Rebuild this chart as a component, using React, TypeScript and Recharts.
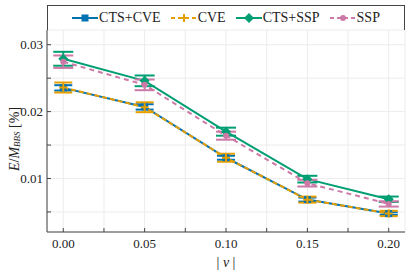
import React from "react";
import {
  ComposedChart,
  Line,
  XAxis,
  YAxis,
  CartesianGrid,
  ErrorBar,
  Label,
} from "recharts";

// |v| values
const velocity = [0, 0.05, 0.1, 0.15, 0.2];

const ctsCve = [0.02355, 0.0207, 0.0131, 0.00685, 0.00475];
const ctsCveErr = [0.0004, 0.0004, 0.0003, 0.0003, 0.0002];
const cve = [0.0236, 0.02065, 0.0131, 0.00684, 0.00477];
const cveErr = [0.00075, 0.00074, 0.0006, 0.00045, 0.0004];
const ctsSsp = [0.0279, 0.0246, 0.017, 0.0099, 0.0069];
const ctsSspErr = [0.00104, 0.0008, 0.0006, 0.0005, 0.0004];
const ssp = [0.02746, 0.024, 0.0164, 0.0093, 0.0062];
const sspErr = [0.00093, 0.0008, 0.0006, 0.0005, 0.0004];

const xTicks = [0, 0.025, 0.05, 0.075, 0.1, 0.125, 0.15, 0.175, 0.2];
const yTicks = [0.005, 0.01, 0.015, 0.02, 0.025, 0.03];

const BLUE = "#0072B2";
const ORANGE = "#E69F00";
const GREEN = "#009E73";
const PINK = "#CC79A7";
const FONT = "Liberation Serif";
const AXIS = "#444";

const data = velocity.map((v, i) => ({
  v,
  ctsCve: ctsCve[i],
  ctsCveErr: ctsCveErr[i],
  cve: cve[i],
  cveErr: cveErr[i],
  ctsSsp: ctsSsp[i],
  ctsSspErr: ctsSspErr[i],
  ssp: ssp[i],
  sspErr: sspErr[i],
}));

const isMajor = (v: number, step: number) =>
  Math.abs(v / step - Math.round(v / step)) < 1e-6;

const SquareDot = (p: any) => (
  <rect x={p.cx - 3.5} y={p.cy - 3.5} width={7} height={7} fill={BLUE} />
);
const PlusDot = (p: any) => (
  <path
    d={`M${p.cx - 4},${p.cy}H${p.cx + 4}M${p.cx},${p.cy - 4}V${p.cy + 4}`}
    stroke={ORANGE}
    strokeWidth={2}
  />
);
const DiamondDot = (p: any) => (
  <path
    d={`M${p.cx},${p.cy - 5}L${p.cx + 5},${p.cy}L${p.cx},${p.cy + 5}L${p.cx - 5},${p.cy}Z`}
    fill={GREEN}
  />
);
const CircleDot = (p: any) => <circle cx={p.cx} cy={p.cy} r={3} fill={PINK} />;

const legendItems = [
  { name: "CTS+CVE", color: BLUE, dash: undefined, marker: "square" },
  { name: "CVE", color: ORANGE, dash: "4 3", marker: "plus" },
  { name: "CTS+SSP", color: GREEN, dash: undefined, marker: "diamond" },
  { name: "SSP", color: PINK, dash: "4 3", marker: "circle" },
];

const LegendMarker = ({ item }: { item: (typeof legendItems)[number] }) => (
  <svg width={26} height={12} style={{ display: "block" }}>
    <line x1={0} y1={6} x2={26} y2={6} stroke={item.color} strokeWidth={2} strokeDasharray={item.dash} />
    {item.marker === "square" && <rect x={9.5} y={2.5} width={7} height={7} fill={item.color} />}
    {item.marker === "plus" && (
      <path d="M9,6H17M13,2V10" stroke={item.color} strokeWidth={2} />
    )}
    {item.marker === "diamond" && <path d="M13,1L18,6L13,11L8,6Z" fill={item.color} />}
    {item.marker === "circle" && <circle cx={13} cy={6} r={3} fill={item.color} />}
  </svg>
);

const YLabel = (props: any) => {
  const vb = props.viewBox;
  const cy = vb.y + vb.height / 2 + 8;
  return (
    <text
      x={14}
      y={cy}
      transform={`rotate(-90, 14, ${cy})`}
      textAnchor="middle"
      dominantBaseline="central"
      fontFamily={FONT}
      fontSize={14}
      fill="#222"
    >
      <tspan fontStyle="italic">E</tspan>
      <tspan>/</tspan>
      <tspan fontStyle="italic">M</tspan>
      <tspan fontStyle="italic" fontSize={9} dy={3}>BBS</tspan>
      <tspan dy={-3}> [%]</tspan>
    </text>
  );
};

export default function App() {
  return (
    <div style={{ position: "absolute", left: 0, top: 0, width: 411, height: 274, background: "#fff", fontFamily: FONT }}>
      <ComposedChart
        width={411}
        height={274}
        data={data}
        margin={{ top: 30, right: 6, left: 0, bottom: 12 }}
        style={{ fontFamily: FONT }}
      >
        <CartesianGrid stroke="#ececec" strokeWidth={1} />
        <XAxis
          dataKey="v"
          type="number"
          domain={[-0.01, 0.21]}
          ticks={xTicks}
          tickFormatter={(v: number) => (isMajor(v, 0.05) ? v.toFixed(2) : "")}
          tickSize={-4}
          tickMargin={11}
          height={30}
          stroke={AXIS}
          tick={{ fontFamily: FONT, fontSize: 13, fill: "#222" }}
        >
          <Label
            content={(p: any) => (
              <text
                x={p.viewBox.x + p.viewBox.width / 2}
                y={262}
                textAnchor="middle"
                dominantBaseline="central"
                fontFamily={FONT}
                fontSize={14}
                fill="#222"
              >
                {"| "}
                <tspan fontStyle="italic">v</tspan>
                {" |"}
              </text>
            )}
          />
        </XAxis>
        <XAxis
          xAxisId="top"
          orientation="top"
          dataKey="v"
          type="number"
          domain={[-0.01, 0.21]}
          ticks={xTicks}
          tick={false}
          tickSize={-4}
          height={0}
          stroke={AXIS}
        />
        <YAxis
          type="number"
          domain={[0.002, 0.0322]}
          ticks={yTicks}
          tickFormatter={(v: number) => (isMajor(v, 0.01) ? v.toFixed(2) : "")}
          tickSize={-4}
          tickMargin={8}
          width={47}
          stroke={AXIS}
          tick={{ fontFamily: FONT, fontSize: 13, fill: "#222" }}
          allowDataOverflow
        >
          <Label content={YLabel} />
        </YAxis>
        <YAxis
          yAxisId="right"
          orientation="right"
          type="number"
          domain={[0.002, 0.0322]}
          ticks={yTicks}
          tick={false}
          tickSize={-4}
          width={0}
          stroke={AXIS}
        />
        <Line
          dataKey="ctsCve"
          stroke={BLUE}
          strokeWidth={2}
          dot={<SquareDot />}
          activeDot={false}
          isAnimationActive={false}
        >
          <ErrorBar dataKey="ctsCveErr" width={9} stroke={BLUE} strokeWidth={2} direction="y" isAnimationActive={false} />
        </Line>
        <Line
          dataKey="cve"
          stroke={ORANGE}
          strokeWidth={2}
          strokeDasharray="5 3"
          dot={<PlusDot />}
          activeDot={false}
          isAnimationActive={false}
        >
          <ErrorBar dataKey="cveErr" width={9} stroke={ORANGE} strokeWidth={2} direction="y" isAnimationActive={false} />
        </Line>
        <Line
          dataKey="ctsSsp"
          stroke={GREEN}
          strokeWidth={2}
          dot={<DiamondDot />}
          activeDot={false}
          isAnimationActive={false}
        >
          <ErrorBar dataKey="ctsSspErr" width={10} stroke={GREEN} strokeWidth={2} direction="y" isAnimationActive={false} />
        </Line>
        <Line
          dataKey="ssp"
          stroke={PINK}
          strokeWidth={2}
          strokeDasharray="5 4"
          dot={<CircleDot />}
          activeDot={false}
          isAnimationActive={false}
        >
          <ErrorBar dataKey="sspErr" width={10} stroke={PINK} strokeWidth={2} direction="y" isAnimationActive={false} />
        </Line>
      </ComposedChart>
      <div
        style={{
          position: "absolute",
          left: 47,
          top: 5,
          width: 358,
          height: 25,
          boxSizing: "border-box",
          border: `1px solid ${AXIS}`,
          borderBottom: "none",
          display: "flex",
          alignItems: "center",
          justifyContent: "center",
          gap: 10,
          fontFamily: FONT,
          fontSize: 14,
          color: "#222",
        }}
      >
        {legendItems.map((item) => (
          <div key={item.name} style={{ display: "flex", alignItems: "center", gap: 1 }}>
            <LegendMarker item={item} />
            <span>{item.name}</span>
          </div>
        ))}
      </div>
    </div>
  );
}
